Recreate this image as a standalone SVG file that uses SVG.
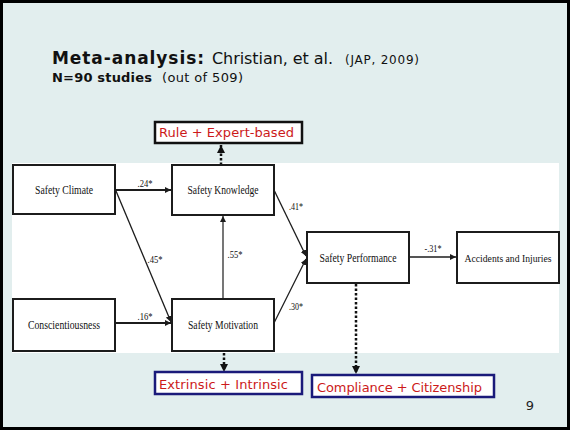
<svg xmlns="http://www.w3.org/2000/svg" width="570" height="430" viewBox="0 0 570 430">
<defs>
<style>
.box{fill:#fff;stroke:#1c1c1c;stroke-width:2}
.nt{font-family:"Liberation Serif",serif;font-size:12.5px;fill:#111;text-anchor:middle}
.lb{font-family:"Liberation Serif",serif;font-size:11px;fill:#111;text-anchor:middle}
.ln{stroke:#1c1c1c;fill:none}
.dot{stroke:#111;stroke-width:2.5;stroke-dasharray:2.5 2;fill:none}
.red{font-family:"DejaVu Sans",sans-serif;font-size:13px;fill:#cc1a1a}
.hd{font-family:"DejaVu Sans",sans-serif;fill:#111}
</style>
<marker id="ah" viewBox="0 0 10 10" refX="10" refY="5" markerWidth="6" markerHeight="6" markerUnits="userSpaceOnUse" orient="auto"><path d="M0,0L10,5L0,10z" fill="#1c1c1c"/></marker>
<marker id="ad" viewBox="0 0 10 10" refX="10" refY="5" markerWidth="8" markerHeight="8" markerUnits="userSpaceOnUse" orient="auto"><path d="M0,0L10,5L0,10z" fill="#111"/></marker>
</defs>
<rect x="1.5" y="1.5" width="567" height="427" fill="#e2eeee" stroke="#000" stroke-width="3"/>
<rect x="12" y="163" width="547" height="190" fill="#fff"/>
<g id="title">
<text class="hd" x="52" y="64" font-size="17" font-weight="bold" textLength="152" lengthAdjust="spacing">Meta-analysis:</text>
<text class="hd" x="212" y="64" font-size="16" textLength="121" lengthAdjust="spacing">Christian, et al.</text>
<text class="hd" x="345" y="64" font-size="12" textLength="74" lengthAdjust="spacing">(JAP, 2009)</text>
<text class="hd" x="52" y="82" font-size="13" font-weight="bold" textLength="100" lengthAdjust="spacing">N=90 studies</text>
<text class="hd" x="162" y="82" font-size="13" textLength="81" lengthAdjust="spacing">(out of 509)</text>
</g>
<g id="connectors">
<line class="ln" x1="115" y1="190" x2="171" y2="190" stroke-width="2.2" marker-end="url(#ah)"/>
<line class="ln" x1="116" y1="191" x2="171" y2="322" stroke-width="1.3" marker-end="url(#ah)"/>
<line class="ln" x1="115" y1="323" x2="171" y2="323" stroke-width="2.2" marker-end="url(#ah)"/>
<line class="ln" x1="223" y1="299" x2="223" y2="216" stroke-width="1.2" marker-end="url(#ah)"/>
<line class="ln" x1="274" y1="190" x2="306" y2="256" stroke-width="1.3" marker-end="url(#ah)"/>
<line class="ln" x1="274" y1="323" x2="306" y2="259" stroke-width="1.3" marker-end="url(#ah)"/>
<line class="ln" x1="409" y1="257" x2="456" y2="257" stroke-width="1.6" marker-end="url(#ah)"/>
<line class="dot" x1="221" y1="165" x2="221" y2="145" marker-end="url(#ad)"/>
<line class="dot" x1="224" y1="353" x2="224" y2="372" marker-end="url(#ad)"/>
<line class="dot" x1="356" y1="284" x2="356" y2="374" marker-end="url(#ad)"/>
<text class="lb" x="145" y="187" textLength="15" lengthAdjust="spacingAndGlyphs">.24*</text>
<text class="lb" x="155" y="263" textLength="15" lengthAdjust="spacingAndGlyphs">.45*</text>
<text class="lb" x="145" y="320" textLength="15" lengthAdjust="spacingAndGlyphs">.16*</text>
<text class="lb" x="235" y="258" textLength="15" lengthAdjust="spacingAndGlyphs">.55*</text>
<text class="lb" x="296" y="210" textLength="14" lengthAdjust="spacingAndGlyphs">.41*</text>
<text class="lb" x="296" y="310" textLength="14" lengthAdjust="spacingAndGlyphs">.30*</text>
<text class="lb" x="433" y="252" textLength="17" lengthAdjust="spacingAndGlyphs">-.31*</text>
</g>
<g id="safety-climate"><rect class="box" x="13" y="165" width="102" height="49"/><text class="nt" x="64" y="194" textLength="58" lengthAdjust="spacingAndGlyphs">Safety Climate</text></g>
<g id="safety-knowledge"><rect class="box" x="172" y="165" width="102" height="50"/><text class="nt" x="223" y="194" textLength="71" lengthAdjust="spacingAndGlyphs">Safety Knowledge</text></g>
<g id="conscientiousness"><rect class="box" x="13" y="299" width="102" height="52"/><text class="nt" x="64" y="329" textLength="72" lengthAdjust="spacingAndGlyphs">Conscientiousness</text></g>
<g id="safety-motivation"><rect class="box" x="172" y="299" width="102" height="52"/><text class="nt" x="223" y="329" textLength="70" lengthAdjust="spacingAndGlyphs">Safety Motivation</text></g>
<g id="safety-performance"><rect class="box" x="307" y="232" width="102" height="51"/><text class="nt" x="358" y="262" textLength="77" lengthAdjust="spacingAndGlyphs">Safety Performance</text></g>
<g id="accidents"><rect class="box" x="457" y="232" width="102" height="51"/><text class="nt" x="508" y="262" style="font-size:10.5px" textLength="87" lengthAdjust="spacingAndGlyphs">Accidents and Injuries</text></g>
<g id="rule-expert"><rect x="155" y="122" width="147" height="21" fill="#fff" stroke="#111" stroke-width="2.5"/><text class="red" x="159" y="137" textLength="135" lengthAdjust="spacing">Rule + Expert-based</text></g>
<g id="extrinsic-intrinsic"><rect x="155" y="372" width="147" height="22" fill="#fff" stroke="#1a1a7a" stroke-width="2.5"/><text class="red" x="159" y="389" textLength="129" lengthAdjust="spacing">Extrinsic + Intrinsic</text></g>
<g id="compliance-citizenship"><rect x="312" y="375" width="182" height="22" fill="#fff" stroke="#1a1a7a" stroke-width="2.5"/><text class="red" x="317" y="392" textLength="165" lengthAdjust="spacing">Compliance + Citizenship</text></g>
<text x="530" y="410" font-family="DejaVu Sans,sans-serif" font-size="13" fill="#222" text-anchor="middle">9</text>
</svg>
